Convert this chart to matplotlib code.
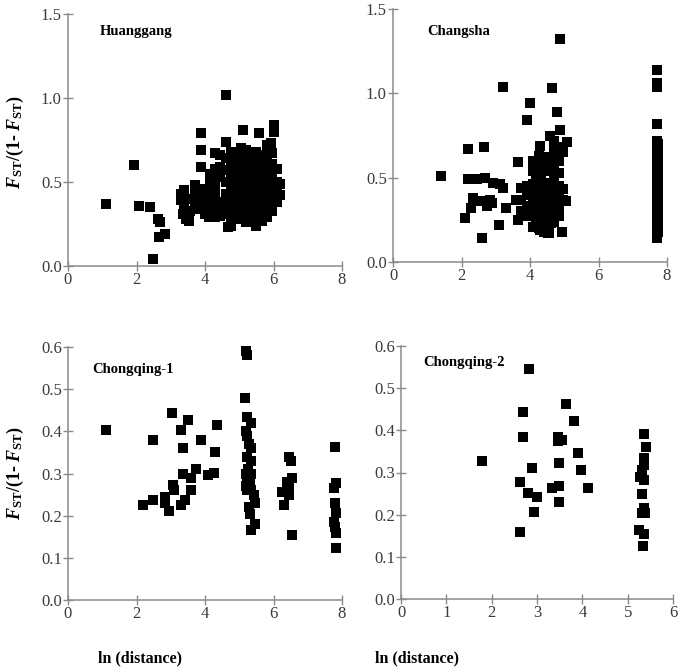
import matplotlib
matplotlib.use("Agg")
import matplotlib.pyplot as plt

plt.rcParams['font.family'] = ['Liberation Serif', 'DejaVu Serif']
plt.rcParams['mathtext.fontset'] = 'custom'
plt.rcParams['mathtext.rm'] = 'Liberation Serif'
plt.rcParams['mathtext.it'] = 'Liberation Serif:italic'
plt.rcParams['mathtext.bf'] = 'Liberation Serif:bold'
plt.rcParams['mathtext.bfit'] = 'Liberation Serif:bold:italic'

# ---------------- data ----------------
panel_titles = ["Huanggang", "Changsha", "Chongqing-1", "Chongqing-2"]

huanggang_points = [
    (1.12, 0.37), (1.94, 0.60), (2.07, 0.36), (2.38, 0.35), (2.62, 0.28), (2.70, 0.26),
    (2.67, 0.17), (2.82, 0.19), (2.48, 0.04),
    (3.88, 0.79), (3.88, 0.69), (3.88, 0.59), (4.61, 1.02), (4.61, 0.74), (5.10, 0.81),
    (5.58, 0.79), (6.00, 0.84), (6.00, 0.80), (5.92, 0.73),
    (3.30, 0.43), (3.30, 0.39), (3.35, 0.31),
    (3.40, 0.45), (3.40, 0.36), (3.45, 0.28),
    (3.55, 0.40), (3.55, 0.33), (3.54, 0.27),
    (3.70, 0.48), (3.70, 0.42), (3.70, 0.36),
    (3.85, 0.46), (3.85, 0.38), (3.85, 0.34), (3.85, 0.42),
    (4.00, 0.44), (4.00, 0.36), (4.00, 0.31), (4.00, 0.40),
    (4.15, 0.55), (4.15, 0.49), (4.15, 0.38), (4.15, 0.33), (4.13, 0.29),
    (4.30, 0.67), (4.30, 0.58), (4.30, 0.51), (4.30, 0.46), (4.30, 0.40), (4.30, 0.34), (4.30, 0.29),
    (4.45, 0.66), (4.45, 0.59), (4.45, 0.53), (4.45, 0.38), (4.45, 0.33), (4.45, 0.30),
    (4.60, 0.64), (4.60, 0.57), (4.60, 0.50), (4.60, 0.43), (4.60, 0.37), (4.60, 0.31), (4.66, 0.23),
    (4.75, 0.68), (4.75, 0.60), (4.75, 0.55), (4.75, 0.48), (4.75, 0.42), (4.75, 0.36), (4.75, 0.30), (4.76, 0.24),
    (4.90, 0.66), (4.90, 0.59), (4.90, 0.53), (4.90, 0.47), (4.90, 0.41), (4.90, 0.35), (4.90, 0.30),
    (5.05, 0.70), (5.05, 0.64), (5.05, 0.57), (5.05, 0.51), (5.05, 0.45), (5.05, 0.39), (5.05, 0.33), (5.05, 0.28),
    (5.20, 0.69), (5.20, 0.63), (5.20, 0.58), (5.20, 0.52), (5.20, 0.46), (5.20, 0.40), (5.20, 0.35), (5.20, 0.30), (5.20, 0.26),
    (5.35, 0.67), (5.35, 0.61), (5.35, 0.55), (5.35, 0.49), (5.35, 0.43), (5.35, 0.38), (5.35, 0.32), (5.35, 0.27),
    (5.50, 0.68), (5.50, 0.62), (5.50, 0.56), (5.50, 0.50), (5.50, 0.44), (5.50, 0.39), (5.50, 0.34), (5.50, 0.29), (5.49, 0.24),
    (5.65, 0.66), (5.65, 0.60), (5.65, 0.54), (5.65, 0.48), (5.65, 0.42), (5.65, 0.37), (5.65, 0.31), (5.65, 0.27),
    (5.80, 0.72), (5.80, 0.65), (5.80, 0.59), (5.80, 0.53), (5.80, 0.47), (5.80, 0.41), (5.80, 0.35), (5.80, 0.29),
    (5.95, 0.67), (5.95, 0.61), (5.95, 0.56), (5.95, 0.50), (5.95, 0.44), (5.95, 0.39), (5.95, 0.33),
    (6.10, 0.58), (6.10, 0.50), (6.10, 0.43), (6.10, 0.38),
    (6.20, 0.49), (6.20, 0.42),
]

changsha_points = [
    (1.41, 0.51), (2.20, 0.67), (2.66, 0.68),
    (2.20, 0.49), (2.44, 0.49), (2.68, 0.50), (2.93, 0.47), (3.12, 0.46), (3.20, 0.44),
    (2.34, 0.38), (2.29, 0.32), (2.58, 0.36), (2.83, 0.37), (2.88, 0.35), (2.10, 0.26),
    (2.59, 0.14), (3.10, 0.22), (3.29, 0.32), (2.45, 0.36), (2.75, 0.33),
    (3.22, 1.04), (4.00, 0.94), (3.90, 0.84), (3.66, 0.59), (4.63, 1.03), (4.88, 1.32),
    (4.78, 0.89), (4.88, 0.78), (5.07, 0.71), (4.29, 0.69), (4.58, 0.75),
    (3.64, 0.25), (3.60, 0.37), (3.76, 0.44), (4.29, 0.19), (4.54, 0.17), (4.93, 0.18),
    (3.75, 0.44), (3.75, 0.37), (3.75, 0.30),
    (3.90, 0.45), (3.90, 0.40), (3.90, 0.33), (3.90, 0.27),
    (4.10, 0.60), (4.10, 0.54), (4.10, 0.46), (4.10, 0.40), (4.10, 0.34), (4.10, 0.28), (4.10, 0.21),
    (4.18, 0.50), (4.18, 0.43), (4.18, 0.37), (4.18, 0.31), (4.18, 0.25),
    (4.25, 0.63), (4.25, 0.57), (4.25, 0.51), (4.25, 0.44), (4.25, 0.38), (4.25, 0.32), (4.25, 0.26), (4.25, 0.20),
    (4.33, 0.48), (4.33, 0.42), (4.33, 0.36), (4.33, 0.30), (4.33, 0.24),
    (4.40, 0.58), (4.40, 0.47), (4.40, 0.41), (4.40, 0.35), (4.40, 0.29), (4.40, 0.23), (4.40, 0.18),
    (4.48, 0.44), (4.48, 0.38), (4.48, 0.32), (4.48, 0.26), (4.48, 0.20),
    (4.55, 0.62), (4.55, 0.54), (4.55, 0.45), (4.55, 0.39), (4.55, 0.33), (4.55, 0.27), (4.55, 0.21), (4.55, 0.17),
    (4.62, 0.41), (4.62, 0.35), (4.62, 0.29), (4.62, 0.23),
    (4.70, 0.72), (4.70, 0.66), (4.70, 0.57), (4.70, 0.48), (4.70, 0.42), (4.70, 0.36), (4.70, 0.30), (4.70, 0.24),
    (4.85, 0.68), (4.85, 0.60), (4.85, 0.53), (4.85, 0.45), (4.85, 0.39), (4.85, 0.33), (4.85, 0.27),
    (4.95, 0.65), (4.95, 0.43), (4.95, 0.37), (5.05, 0.36),
    (7.72, 1.14), (7.72, 1.06), (7.72, 1.04), (7.72, 0.82),
    (7.71, 0.72), (7.73, 0.70), (7.71, 0.68), (7.73, 0.66), (7.71, 0.64), (7.73, 0.62),
    (7.71, 0.60), (7.73, 0.58), (7.71, 0.56), (7.73, 0.54), (7.71, 0.52), (7.73, 0.50),
    (7.71, 0.48), (7.73, 0.46), (7.71, 0.44), (7.73, 0.42), (7.71, 0.40), (7.73, 0.38),
    (7.71, 0.36), (7.73, 0.34), (7.71, 0.32), (7.73, 0.30), (7.71, 0.28), (7.73, 0.26),
    (7.71, 0.24), (7.73, 0.22), (7.71, 0.20), (7.73, 0.18), (7.71, 0.16), (7.72, 0.14),
]

chongqing1_points = [
    (1.12, 0.404), (2.18, 0.225), (2.48, 0.238), (2.48, 0.380),
    (2.82, 0.245), (2.82, 0.230), (2.94, 0.210),
    (3.04, 0.444), (3.06, 0.272), (3.10, 0.260),
    (3.30, 0.404), (3.35, 0.361), (3.37, 0.298), (3.30, 0.225), (3.43, 0.238),
    (3.50, 0.427), (3.60, 0.260), (3.60, 0.290), (3.74, 0.310), (3.88, 0.380),
    (4.08, 0.297), (4.25, 0.302), (4.30, 0.350), (4.34, 0.414),
    (5.17, 0.480), (5.19, 0.590), (5.24, 0.580),
    (5.24, 0.435), (5.35, 0.420), (5.19, 0.400), (5.24, 0.390), (5.28, 0.370), (5.35, 0.360),
    (5.24, 0.340), (5.35, 0.330), (5.19, 0.300), (5.33, 0.300), (5.24, 0.290), (5.30, 0.280),
    (5.19, 0.270), (5.33, 0.260), (5.42, 0.250), (5.47, 0.230), (5.28, 0.220), (5.30, 0.205),
    (5.47, 0.180), (5.33, 0.165), (5.24, 0.260), (5.26, 0.310),
    (6.26, 0.257), (6.31, 0.225), (6.45, 0.340), (6.50, 0.330), (6.44, 0.270),
    (6.54, 0.290), (6.44, 0.250), (6.40, 0.280), (6.54, 0.154),
    (7.80, 0.362), (7.82, 0.277), (7.78, 0.265), (7.80, 0.230), (7.83, 0.206),
    (7.78, 0.186), (7.80, 0.174), (7.82, 0.159), (7.82, 0.123),
]

chongqing2_points = [
    (1.78, 0.328), (2.62, 0.160), (2.62, 0.277), (2.70, 0.385), (2.70, 0.444), (2.82, 0.545),
    (2.81, 0.252), (2.88, 0.310), (2.94, 0.207), (2.99, 0.243),
    (3.32, 0.263), (3.49, 0.268), (3.48, 0.322), (3.48, 0.230), (3.47, 0.384),
    (3.47, 0.374), (3.56, 0.378), (3.65, 0.462), (3.82, 0.422),
    (3.91, 0.347), (3.96, 0.306), (4.13, 0.264),
    (5.37, 0.391), (5.40, 0.360), (5.36, 0.335), (5.35, 0.318), (5.31, 0.306),
    (5.27, 0.290), (5.37, 0.283), (5.31, 0.250), (5.35, 0.215), (5.31, 0.203),
    (5.38, 0.205), (5.24, 0.164), (5.36, 0.155), (5.33, 0.125),
]

x_ticks = [[0, 2, 4, 6, 8], [0, 2, 4, 6, 8], [0, 2, 4, 6, 8], [0, 1, 2, 3, 4, 5, 6]]
y_ticks = [[0.0, 0.5, 1.0, 1.5], [0.0, 0.5, 1.0, 1.5],
           [0.0, 0.1, 0.2, 0.3, 0.4, 0.5, 0.6], [0.0, 0.1, 0.2, 0.3, 0.4, 0.5, 0.6]]
x_label = "ln (distance)"

# ---------------- figure ----------------
W, H = 683, 671
fig = plt.figure(figsize=(W / 100, H / 100), dpi=100)

def box(l, r, t, b):
    return [l / W, 1 - b / H, (r - l) / W, (b - t) / H]

positions = [box(68, 342, 14, 266), box(393, 667, 9, 262),
             box(68, 342, 347, 600), box(401, 673, 346, 599)]
title_pos = [(0.117, 0.93), (0.124, 0.91), (0.088, 0.91), (0.081, 0.933)]
datasets = [huanggang_points, changsha_points, chongqing1_points, chongqing2_points]

spine_col = '#8a8a8a'
for i in range(4):
    ax = fig.add_axes(positions[i])
    pts = datasets[i]
    xs = [p[0] for p in pts]
    ys = [p[1] for p in pts]
    ax.scatter(xs, ys, marker='s', s=54, c='black', linewidths=0, clip_on=False, zorder=3)
    ax.set_xlim(x_ticks[i][0], x_ticks[i][-1])
    ax.set_ylim(y_ticks[i][0], y_ticks[i][-1])
    ax.set_xticks(x_ticks[i])
    ax.set_yticks(y_ticks[i])
    ax.set_xticklabels([str(v) for v in x_ticks[i]])
    ax.set_yticklabels([f"{v:.1f}" for v in y_ticks[i]])
    for s in ['top', 'right']:
        ax.spines[s].set_visible(False)
    for s in ['left', 'bottom']:
        ax.spines[s].set_color(spine_col)
        ax.spines[s].set_linewidth(1.1)
    ax.tick_params(direction='inout', length=7, width=1.0, color=spine_col,
                   labelsize=12, labelcolor='#3a3a3a', pad=1)
    ax.text(title_pos[i][0], title_pos[i][1], panel_titles[i], transform=ax.transAxes,
            fontsize=10.5, fontweight='bold', ha='left', va='center')

ylab = r'$\mathbfit{F}_{\mathbf{ST}}$/(1- $\mathbfit{F}_{\mathbf{ST}}$)'
fig.text(15 / W, 1 - 142 / H, ylab, rotation=90, ha='center', va='center',
         fontsize=13, fontweight='bold')
fig.text(15 / W, 1 - 473 / H, ylab, rotation=90, ha='center', va='center',
         fontsize=13, fontweight='bold')
fig.text(140 / W, 1 - 658 / H, x_label, ha='center', va='center', fontsize=11.5, fontweight='bold')
fig.text(417 / W, 1 - 658 / H, x_label, ha='center', va='center', fontsize=11.5, fontweight='bold')

fig.savefig("out.png", dpi=100)
